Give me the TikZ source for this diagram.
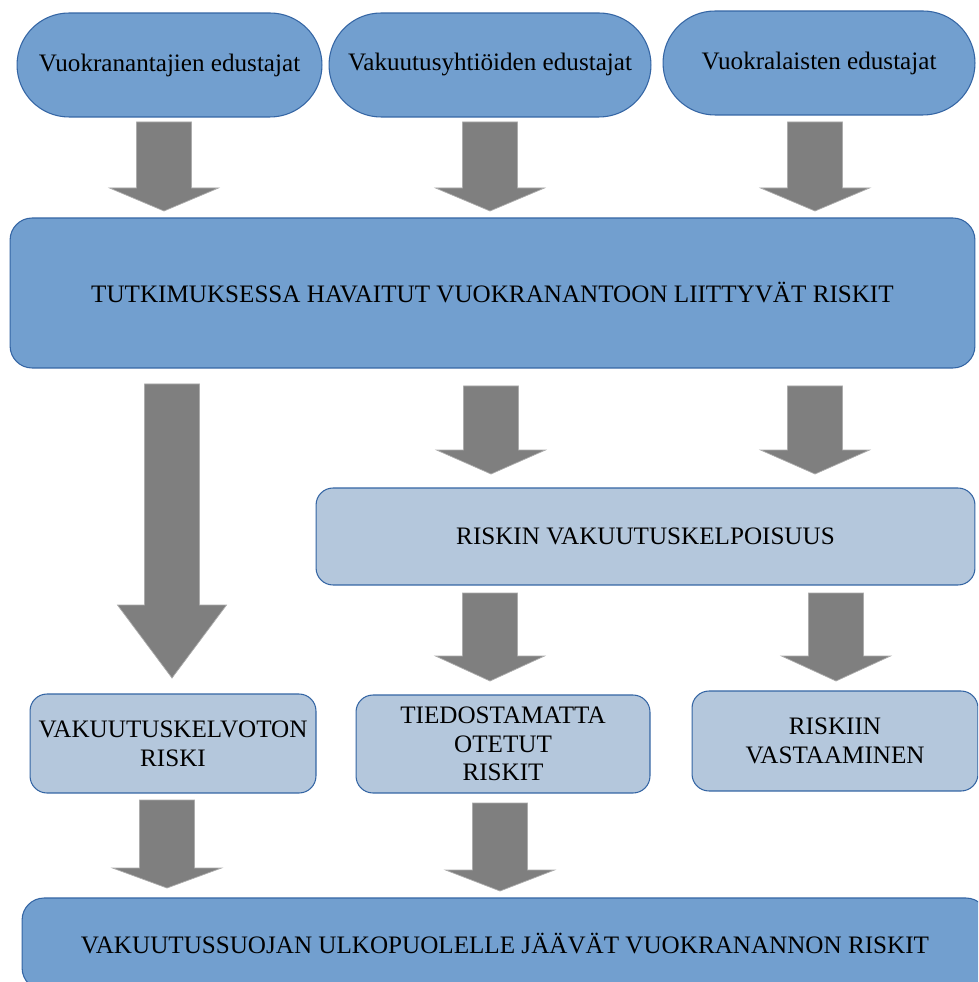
\documentclass[tikz,border=0pt]{standalone}
\usepackage{fontspec}
\setmainfont{Liberation Serif}
\usetikzlibrary{calc}
\definecolor{darkblue}{HTML}{729FCF}
\definecolor{lightblue}{HTML}{B4C7DC}
\definecolor{edgeblue}{HTML}{3465A4}
\definecolor{arrowgray}{HTML}{7F7F7F}
\def\fatarrow(#1)(#2)(#3){\filldraw[arrowgray, draw=gray!65, line width=0.4pt] ($(#1)+(-27.5,0)$) -- ($(#2)+(-27.5,-#3)$) -- ($(#2)+(-54.5,-#3)$) -- (#2) -- ($(#2)+(54.5,-#3)$) -- ($(#2)+(27.5,-#3)$) -- ($(#1)+(27.5,0)$) -- cycle;}

\begin{document}
\begin{tikzpicture}[x=0.02cm, y=-0.02cm, font=\fontsize{14.3}{16.3}\selectfont,
	pill/.style={draw=edgeblue, fill=darkblue, line width=0.6pt, rounded corners=1.04cm, minimum height=2.08cm},
	bigbox/.style={draw=edgeblue, fill=darkblue, line width=0.6pt, rounded corners=0.44cm},
	smallbox/.style={draw=edgeblue, fill=lightblue, line width=0.6pt, rounded corners=0.34cm, align=center}]
		%%%%% START %%%%%
		\clip (0, 0) rectangle (978, 982);
		\fill[white] (0, 0) rectangle (978, 982);
		
		% top row
		\node[pill, minimum width=6.1cm] (landlords) at (169.5, 65) {Vuokranantajien edustajat};
		\node[pill, minimum width=6.44cm] (insurers) at (490, 65) {Vakuutusyhtiöiden edustajat};
		\node[pill, minimum width=6.24cm] (tenants) at (819, 63) {Vuokralaisten edustajat};
		
		\coordinate (a1s) at (164, 122); \coordinate (a1e) at (164, 211);
		\coordinate (a2s) at (490, 122); \coordinate (a2e) at (490, 211);
		\coordinate (a3s) at (815, 122); \coordinate (a3e) at (815, 211);
		\fatarrow(a1s)(a1e)(23)
		\fatarrow(a2s)(a2e)(23)
		\fatarrow(a3s)(a3e)(23)
		
		% risks found
		\node[bigbox, minimum width=19.3cm, minimum height=3cm] (risks) at (492.5, 293) {TUTKIMUKSESSA HAVAITUT VUOKRANANTOON LIITTYVÄT RISKIT};
		
		\coordinate (a4s) at (172, 384); \coordinate (a4e) at (172, 678);
		\coordinate (a5s) at (491, 386); \coordinate (a5e) at (491, 474);
		\coordinate (a6s) at (815, 386); \coordinate (a6e) at (815, 474);
		\fatarrow(a4s)(a4e)(73)
		\fatarrow(a5s)(a5e)(24)
		\fatarrow(a6s)(a6e)(24)
		
		\node[smallbox, minimum width=13.18cm, minimum height=1.94cm] (insurability) at (645.5, 536.5) {RISKIN VAKUUTUSKELPOISUUS};
		
		\coordinate (a7s) at (490, 593); \coordinate (a7e) at (490, 681);
		\coordinate (a8s) at (836, 593); \coordinate (a8e) at (836, 681);
		\fatarrow(a7s)(a7e)(25)
		\fatarrow(a8s)(a8e)(25)
		
		% third row
		\node[smallbox, minimum width=5.72cm, minimum height=1.98cm] (uninsurable) at (173, 743.5) {VAKUUTUSKELVOTON\\RISKI};
		\node[smallbox, minimum width=5.88cm, minimum height=1.96cm] (unaware) at (503, 744) {TIEDOSTAMATTA\\OTETUT\\RISKIT};
		\node[smallbox, minimum width=5.72cm, minimum height=2cm] (response) at (835, 741) {RISKIIN\\VASTAAMINEN};
		
		\coordinate (a9s) at (167, 800); \coordinate (a9e) at (167, 888);
		\coordinate (a10s) at (500, 803); \coordinate (a10e) at (500, 891);
		\fatarrow(a9s)(a9e)(20)
		\fatarrow(a10s)(a10e)(21)
		
		% outside cover
		\node[bigbox, minimum width=19.32cm, minimum height=1.84cm] (outside) at (505, 944) {VAKUUTUSSUOJAN ULKOPUOLELLE JÄÄVÄT VUOKRANANNON RISKIT};
		%%%%% END %%%%%
\end{tikzpicture}
\end{document}
